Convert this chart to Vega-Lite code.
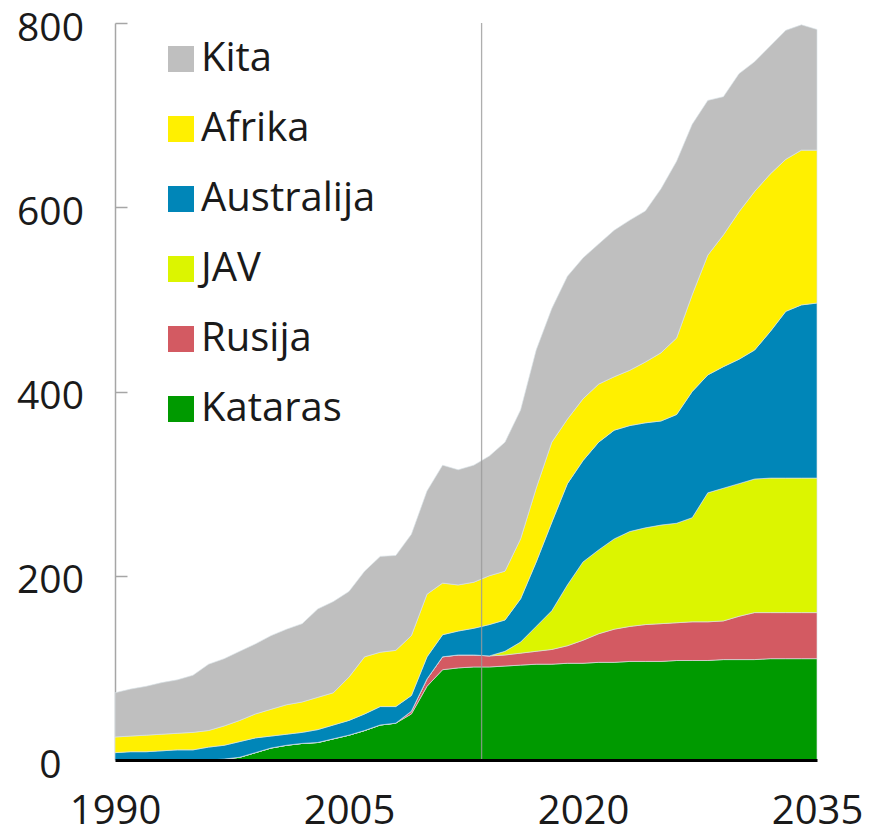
{
  "$schema": "https://vega.github.io/schema/vega-lite/v6.json",
  "width": 702,
  "height": 737,
  "autosize": {"type": "none"},
  "padding": {"left": 115, "top": 23, "right": 52, "bottom": 74},
  "background": "white",
  "config": {"view": {"stroke": null}, "font": "Open Sans"},
  "layer": [
    {
      "data": {"values": [
        {"year": 1990, "Kataras": 0, "Rusija": 0, "JAV": 0, "Australija": 8, "Afrika": 17, "Kita": 48},
        {"year": 1991, "Kataras": 0, "Rusija": 0, "JAV": 0, "Australija": 9, "Afrika": 17, "Kita": 51},
        {"year": 1992, "Kataras": 0, "Rusija": 0, "JAV": 0, "Australija": 9, "Afrika": 18, "Kita": 53},
        {"year": 1993, "Kataras": 0, "Rusija": 0, "JAV": 0, "Australija": 10, "Afrika": 18, "Kita": 56},
        {"year": 1994, "Kataras": 0, "Rusija": 0, "JAV": 0, "Australija": 11, "Afrika": 18, "Kita": 58},
        {"year": 1995, "Kataras": 0, "Rusija": 0, "JAV": 0, "Australija": 11, "Afrika": 19, "Kita": 62},
        {"year": 1996, "Kataras": 0, "Rusija": 0, "JAV": 0, "Australija": 14, "Afrika": 18, "Kita": 72},
        {"year": 1997, "Kataras": 1, "Rusija": 0, "JAV": 0, "Australija": 15, "Afrika": 21, "Kita": 73},
        {"year": 1998, "Kataras": 3, "Rusija": 0, "JAV": 0, "Australija": 17, "Afrika": 23, "Kita": 75},
        {"year": 1999, "Kataras": 8, "Rusija": 0, "JAV": 0, "Australija": 16, "Afrika": 26, "Kita": 76},
        {"year": 2000, "Kataras": 13, "Rusija": 0, "JAV": 0, "Australija": 13, "Afrika": 29, "Kita": 80},
        {"year": 2001, "Kataras": 16, "Rusija": 0, "JAV": 0, "Australija": 12, "Afrika": 32, "Kita": 82},
        {"year": 2002, "Kataras": 18, "Rusija": 0, "JAV": 0, "Australija": 12, "Afrika": 33, "Kita": 85},
        {"year": 2003, "Kataras": 19, "Rusija": 0, "JAV": 0, "Australija": 14, "Afrika": 35, "Kita": 96},
        {"year": 2004, "Kataras": 23, "Rusija": 0, "JAV": 0, "Australija": 15, "Afrika": 35, "Kita": 99},
        {"year": 2005, "Kataras": 27, "Rusija": 0, "JAV": 0, "Australija": 16, "Afrika": 47, "Kita": 93},
        {"year": 2006, "Kataras": 32, "Rusija": 0, "JAV": 0, "Australija": 18, "Afrika": 62, "Kita": 93},
        {"year": 2007, "Kataras": 38, "Rusija": 0, "JAV": 0, "Australija": 20, "Afrika": 59, "Kita": 104},
        {"year": 2008, "Kataras": 40, "Rusija": 0, "JAV": 0, "Australija": 18, "Afrika": 61, "Kita": 103},
        {"year": 2009, "Kataras": 50, "Rusija": 3, "JAV": 0, "Australija": 17, "Afrika": 65, "Kita": 110},
        {"year": 2010, "Kataras": 80, "Rusija": 8, "JAV": 0, "Australija": 24, "Afrika": 68, "Kita": 112},
        {"year": 2011, "Kataras": 98, "Rusija": 14, "JAV": 0, "Australija": 24, "Afrika": 56, "Kita": 128},
        {"year": 2012, "Kataras": 100, "Rusija": 14, "JAV": 0, "Australija": 26, "Afrika": 50, "Kita": 125},
        {"year": 2013, "Kataras": 101, "Rusija": 13, "JAV": 0, "Australija": 29, "Afrika": 50, "Kita": 127},
        {"year": 2014, "Kataras": 101, "Rusija": 12, "JAV": 0, "Australija": 34, "Afrika": 53, "Kita": 130},
        {"year": 2015, "Kataras": 102, "Rusija": 12, "JAV": 4, "Australija": 34, "Afrika": 53, "Kita": 140},
        {"year": 2016, "Kataras": 103, "Rusija": 13, "JAV": 12, "Australija": 47, "Afrika": 65, "Kita": 140},
        {"year": 2017, "Kataras": 104, "Rusija": 14, "JAV": 27, "Australija": 70, "Afrika": 80, "Kita": 150},
        {"year": 2018, "Kataras": 104, "Rusija": 16, "JAV": 42, "Australija": 96, "Afrika": 87, "Kita": 145},
        {"year": 2019, "Kataras": 105, "Rusija": 19, "JAV": 66, "Australija": 110, "Afrika": 70, "Kita": 155},
        {"year": 2020, "Kataras": 105, "Rusija": 25, "JAV": 85, "Australija": 110, "Afrika": 67, "Kita": 153},
        {"year": 2021, "Kataras": 106, "Rusija": 31, "JAV": 91, "Australija": 117, "Afrika": 63, "Kita": 152},
        {"year": 2022, "Kataras": 106, "Rusija": 36, "JAV": 98, "Australija": 118, "Afrika": 58, "Kita": 159},
        {"year": 2023, "Kataras": 107, "Rusija": 38, "JAV": 103, "Australija": 115, "Afrika": 60, "Kita": 163},
        {"year": 2024, "Kataras": 107, "Rusija": 40, "JAV": 105, "Australija": 114, "Afrika": 66, "Kita": 164},
        {"year": 2025, "Kataras": 107, "Rusija": 41, "JAV": 107, "Australija": 113, "Afrika": 74, "Kita": 178},
        {"year": 2026, "Kataras": 108, "Rusija": 41, "JAV": 108, "Australija": 118, "Afrika": 83, "Kita": 192},
        {"year": 2027, "Kataras": 108, "Rusija": 42, "JAV": 113, "Australija": 137, "Afrika": 105, "Kita": 185},
        {"year": 2028, "Kataras": 108, "Rusija": 42, "JAV": 140, "Australija": 128, "Afrika": 130, "Kita": 168},
        {"year": 2029, "Kataras": 109, "Rusija": 42, "JAV": 144, "Australija": 132, "Afrika": 143, "Kita": 150},
        {"year": 2030, "Kataras": 109, "Rusija": 47, "JAV": 144, "Australija": 135, "Afrika": 160, "Kita": 150},
        {"year": 2031, "Kataras": 109, "Rusija": 51, "JAV": 145, "Australija": 140, "Afrika": 172, "Kita": 141},
        {"year": 2032, "Kataras": 110, "Rusija": 50, "JAV": 146, "Australija": 159, "Afrika": 171, "Kita": 139},
        {"year": 2033, "Kataras": 110, "Rusija": 50, "JAV": 146, "Australija": 181, "Afrika": 165, "Kita": 140},
        {"year": 2034, "Kataras": 110, "Rusija": 50, "JAV": 146, "Australija": 188, "Afrika": 168, "Kita": 136},
        {"year": 2035, "Kataras": 110, "Rusija": 50, "JAV": 146, "Australija": 190, "Afrika": 166, "Kita": 131}
      ]},
      "transform": [
        {"fold": ["Kataras", "Rusija", "JAV", "Australija", "Afrika", "Kita"], "as": ["region", "value"]},
        {"calculate": "indexof(['Kataras','Rusija','JAV','Australija','Afrika','Kita'], datum.region)", "as": "stackOrder"}
      ],
      "mark": {"type": "area", "stroke": "#d9e3e8", "strokeWidth": 0.8, "strokeOpacity": 0.8},
      "encoding": {
        "x": {
          "field": "year", "type": "quantitative",
          "scale": {"domain": [1990, 2035], "nice": false, "zero": false},
          "axis": {
            "title": null, "values": [1990, 2005, 2020, 2035], "format": "d",
            "ticks": false, "grid": false, "domainColor": "#000000", "domainWidth": 3,
            "labelFontSize": 40, "labelColor": "#1a1a1a", "labelPadding": 31,
            "labelFlush": false, "labelOverlap": false, "zindex": 1
          }
        },
        "y": {
          "field": "value", "type": "quantitative", "stack": "zero",
          "scale": {"domain": [0, 800], "nice": false},
          "axis": {
            "title": null, "values": [0, 200, 400, 600, 800], "grid": false,
            "domainColor": "#a6a6a6", "domainWidth": 1.5,
            "tickColor": "#a6a6a6", "tickSize": -12, "tickWidth": 1.5,
            "labelFontSize": 39, "labelColor": "#1a1a1a", "labelAlign": "center",
            "labelPadding": 77, "labelOffset": 5, "labelFlush": false, "labelOverlap": false
          }
        },
        "color": {
          "field": "region", "type": "nominal",
          "scale": {
            "domain": ["Kita", "Afrika", "Australija", "JAV", "Rusija", "Kataras"],
            "range": ["#bfbfbf", "#fff000", "#0086b8", "#dcf500", "#d35a62", "#009a00"]
          },
          "legend": {
            "title": null, "orient": "none", "legendX": 46, "legendY": 16,
            "symbolType": "square", "symbolSize": 676, "symbolStrokeWidth": 0,
            "labelFontSize": 40, "labelColor": "#1a1a1a", "labelOffset": 0,
            "rowPadding": 30, "labelLimit": 400
          }
        },
        "order": {"field": "stackOrder", "type": "quantitative", "sort": "ascending"}
      }
    },
    {
      "data": {"values": [{"year": 2013.5}]},
      "mark": {"type": "rule", "color": "#9a9a9a", "strokeWidth": 1.3, "opacity": 0.8},
      "encoding": {"x": {"field": "year", "type": "quantitative"}}
    }
  ]
}
